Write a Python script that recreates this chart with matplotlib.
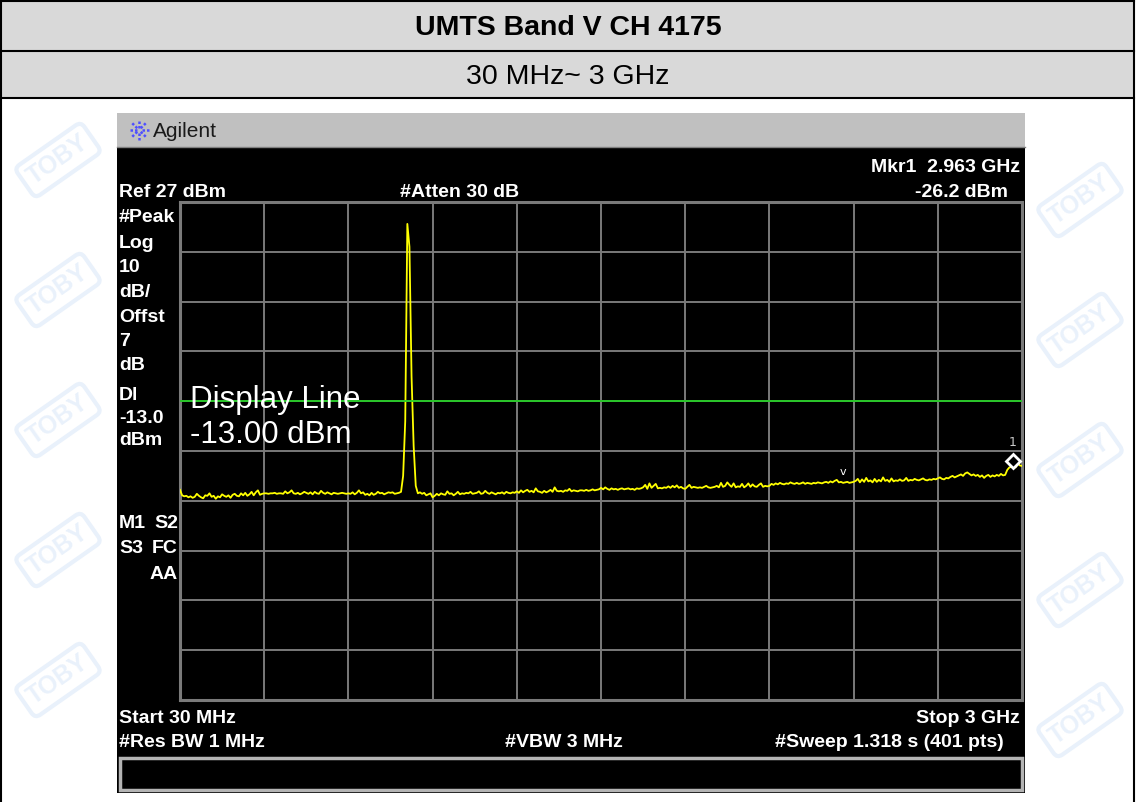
import numpy as np
import matplotlib
matplotlib.use('Agg')
import matplotlib.pyplot as plt
from matplotlib.patches import Rectangle
import matplotlib.transforms as mtransforms

plt.rcParams['font.family'] = ['Liberation Sans', 'DejaVu Sans']

# ---- data ----
title = 'UMTS Band V CH 4175'
subtitle = '30 MHz~ 3 GHz'

start_mhz = 30
stop_mhz = 3000
n_points = 401
ref_level = 27
db_per_div = 10
display_line = -13.0

trace_dbm = [
    -30.8, -31.9, -32.1, -32.0, -32.3, -32.1, -32.4, -32.2, -31.6, -32.0, -32.3, -32.5, -31.9, -32.0, -31.5, -32.2, -32.0, -32.6, -32.1, -32.3,
    -31.7, -32.0, -32.2, -31.9, -32.4, -31.8, -31.6, -32.0, -32.1, -31.5, -31.9, -31.4, -32.0, -31.7, -31.2, -31.9, -31.3, -30.9, -31.8, -31.6,
    -31.5, -31.5, -31.6, -31.5, -31.5, -31.4, -31.6, -31.5, -31.5, -31.6, -31.1, -31.5, -31.3, -30.9, -31.5, -31.6, -31.4, -31.7, -31.5, -31.2,
    -31.4, -31.6, -31.3, -31.7, -31.2, -31.5, -31.6, -31.0, -31.4, -31.6, -31.3, -31.5, -31.7, -31.4, -31.5, -31.6, -31.5, -31.4, -31.5, -31.6,
    -31.5, -31.6, -31.3, -31.7, -31.4, -30.9, -31.5, -31.3, -31.8, -31.6, -31.9, -31.4, -31.8, -31.6, -31.2, -31.5, -31.4, -31.7, -31.5, -31.3,
    -31.4, -31.3, -31.6, -31.5, -31.4, -31.2, -28.0, -17.0, 22.6, 18.0, -8.0, -22.0, -30.0, -31.5, -31.3, -31.6, -31.4, -31.9, -31.7, -31.5,
    -32.3, -32.0, -31.6, -31.9, -31.5, -31.7, -31.8, -31.1, -31.6, -31.5, -31.9, -31.6, -31.2, -31.7, -31.5, -31.6, -31.4, -31.5, -31.2, -31.6,
    -31.5, -31.4, -31.1, -31.6, -31.5, -31.0, -31.4, -31.6, -31.3, -31.5, -31.7, -31.4, -31.5, -31.3, -31.6, -31.2, -31.4, -31.5, -31.3, -31.4,
    -31.1, -31.4, -30.9, -31.3, -31.0, -30.8, -31.2, -31.0, -31.3, -30.5, -31.1, -31.2, -31.4, -31.0, -31.3, -31.1, -30.8, -31.2, -30.3, -31.0,
    -31.1, -31.0, -31.2, -30.9, -31.0, -30.6, -31.1, -30.9, -31.0, -31.1, -30.9, -30.9, -31.0, -30.8, -31.0, -30.9, -30.7, -30.9, -30.8, -30.7,
    -30.4, -30.7, -30.3, -30.6, -30.8, -30.5, -30.7, -30.6, -30.8, -30.6, -30.5, -30.7, -30.6, -30.5, -30.7, -30.6, -30.8, -30.5, -30.6, -30.5,
    -30.3, -29.8, -30.6, -29.5, -30.4, -30.0, -29.6, -30.5, -30.4, -30.5, -30.3, -30.4, -30.1, -30.4, -30.0, -30.3, -29.9, -30.4, -30.2, -30.5,
    -30.6, -30.2, -29.8, -30.4, -30.2, -30.3, -30.4, -30.3, -30.4, -30.2, -30.0, -30.3, -30.4, -30.3, -30.2, -30.0, -30.3, -29.4, -30.2, -30.0,
    -29.3, -29.8, -30.2, -29.5, -30.3, -30.1, -30.2, -29.6, -30.3, -30.0, -29.5, -30.2, -29.7, -30.1, -30.2, -29.8, -29.5, -30.2, -30.0, -30.1,
    -30.0, -29.6, -29.8, -29.5, -29.7, -29.4, -29.6, -29.7, -29.5, -29.6, -29.3, -29.5, -29.6, -29.4, -29.6, -29.5, -29.3, -29.6, -29.4, -29.5,
    -29.6, -29.4, -29.5, -29.3, -29.4, -29.5, -29.3, -29.2, -29.4, -29.1, -29.3, -29.0, -28.8, -29.3, -29.2, -29.4, -29.3, -29.2, -29.4, -29.3,
    -29.2, -29.0, -28.6, -29.3, -28.7, -29.2, -28.4, -29.1, -28.9, -29.3, -28.6, -29.2, -28.8, -29.1, -28.3, -29.0, -28.8, -29.2, -28.5, -29.1,
    -28.9, -29.0, -28.7, -29.0, -28.9, -28.4, -29.0, -28.8, -28.9, -28.6, -28.8, -28.9, -28.7, -28.5, -28.8, -28.9, -28.7, -28.8, -28.6, -28.7,
    -28.5, -28.3, -28.6, -28.7, -28.4, -28.5, -28.2, -28.0, -28.3, -28.1, -27.9, -27.7, -28.0, -27.5, -27.3, -27.6, -27.9, -27.7, -28.0, -27.8,
    -28.2, -27.9, -28.4, -28.0, -27.8, -28.2, -27.9, -28.1, -27.8, -28.0, -27.6, -27.9, -27.8, -26.8, -26.3, -26.2, -26.1, -26.3, -25.5, -25.9,
    -26.0,
]

marker_freq = 2963
marker_level = -26.2
caret_index = 315

left_labels = [('#Peak', 222), ('Log', 248), ('10', 272), ('dB/', 297), ('Offst', 322),
               ('7', 346), ('dB', 370), ('Dl', 400), ('-13.0', 423), ('dBm', 445)]

freqs = np.linspace(start_mhz, stop_mhz, n_points)

W, H = 1136, 802
fig = plt.figure(figsize=(W / 100, H / 100), dpi=100)
fig.patch.set_facecolor('white')

# pixel-coordinate background layer
bg = fig.add_axes([0, 0, 1, 1])
bg.set_xlim(0, W)
bg.set_ylim(H, 0)
bg.axis('off')

# faint watermarks in the side margins
for x0, ys in [(58, [160, 290, 420, 550, 680]), (1080, [200, 330, 460, 590, 720])]:
    for y0 in ys:
        bg.text(x0, y0, 'TOBY', rotation=35, fontsize=18, fontweight='bold',
                color='#e9f1fb', ha='center', va='center', zorder=0,
                bbox=dict(boxstyle='round,pad=0.25', fc='none', ec='#e9f1fb', lw=3))

# table header
bg.add_patch(Rectangle((1, 1), 1133, 49.5, fc='#d9d9d9', ec='none', zorder=1))
bg.add_patch(Rectangle((1, 50.5), 1133, 47, fc='#d9d9d9', ec='none', zorder=1))
for yy in [1, 50.5, 97.5]:
    bg.plot([1, 1134], [yy, yy], color='black', lw=1.5, zorder=2)
for xx in [1, 1134]:
    bg.plot([xx, xx], [1, H], color='black', lw=1.5, zorder=2)
bg.text(W / 2, 35, title, ha='center', va='baseline', fontsize=20.5,
        fontweight='bold', color='black', zorder=3)
bg.text(W / 2, 84, subtitle, ha='center', va='baseline', fontsize=20.5,
        color='black', zorder=3)

# analyzer screen frame
bg.add_patch(Rectangle((117, 113), 908, 34, fc='#c0c0c0', ec='none', zorder=2))
bg.add_patch(Rectangle((117, 147), 908, 646, fc='black', ec='none', zorder=2))
bg.plot([117, 1025], [146.5, 146.5], color='#808080', lw=1, zorder=3)
bg.add_patch(Rectangle((120, 758), 902, 32, fc='black', ec='#b4b4b4', lw=2.5, zorder=3))

# agilent logo
for ang in np.arange(0, 360, 45):
    a = np.deg2rad(ang)
    bg.plot([139 + 2.5 * np.cos(a), 139 + 10 * np.cos(a)],
            [130 + 2.5 * np.sin(a), 130 + 10 * np.sin(a)],
            color='#4f4fff', lw=1.8, ls=(0, (1, 0.8)), zorder=4)
bg.text(153, 137, 'Agilent', fontsize=15, color='#1a1a1a', va='baseline', zorder=4)

tk = dict(color='white', fontsize=14, fontweight='bold', va='baseline', zorder=4)
bg.text(119, 197, 'Ref 27 dBm', **tk)
bg.text(400, 197, '#Atten 30 dB', **tk)
bg.text(1020, 172, 'Mkr1  2.963 GHz', ha='right', **tk)
bg.text(1008, 197, '-26.2 dBm', ha='right', **tk)
for lab, yb in left_labels:
    bg.text(119, yb, lab, **tk)
bg.text(119, 528, 'M1', **tk)
bg.text(178, 528, 'S2', ha='right', **tk)
bg.text(119, 553, 'S3', **tk)
bg.text(178, 553, 'FC', ha='right', **tk)
bg.text(178, 579, 'AA', ha='right', **tk)
bg.text(119, 723, 'Start 30 MHz', **tk)
bg.text(1020, 723, 'Stop 3 GHz', ha='right', **tk)
bg.text(119, 747, '#Res BW 1 MHz', **tk)
bg.text(505, 747, '#VBW 3 MHz', **tk)
bg.text(1004, 747, '#Sweep 1.318 s (401 pts)', ha='right', **tk)

# graticule axes
gx0, gy0, gx1, gy1 = 180, 202, 1022, 700
ax = fig.add_axes([gx0 / W, 1 - gy1 / H, (gx1 - gx0) / W, (gy1 - gy0) / H])
ax.set_facecolor('black')
ax.set_xlim(start_mhz, stop_mhz)
ax.set_ylim(ref_level - 10 * db_per_div, ref_level)
ax.set_xticks(np.linspace(start_mhz, stop_mhz, 11))
ax.set_yticks(np.linspace(ref_level - 10 * db_per_div, ref_level, 11))
ax.grid(True, color='#7a7a7a', lw=1.4)
ax.tick_params(length=0, labelbottom=False, labelleft=False)
for s in ax.spines.values():
    s.set_color('#7a7a7a')
    s.set_linewidth(2.2)

ax.plot(freqs, trace_dbm, color='#ffff00', lw=1.3, zorder=3)
ax.axhline(display_line, color='#22cc22', lw=1.3, zorder=4)

ax.text(190, 408, 'Display Line', transform=bg.transData, color='white',
        fontsize=22.5, va='baseline', zorder=5)
ax.text(190, 443, '%.2f dBm' % display_line, transform=bg.transData, color='white',
        fontsize=22.5, va='baseline', zorder=5)

up = mtransforms.offset_copy(ax.transData, fig=fig, x=1, y=6, units='dots')
ax.plot([marker_freq], [marker_level], marker='D', ms=7.5, mec='white', mfc='black',
        mew=2, transform=up, clip_on=False, zorder=6)
lab_t = mtransforms.offset_copy(ax.transData, fig=fig, x=1, y=18, units='dots')
ax.text(marker_freq, marker_level, '1', transform=lab_t, color='#c8c8c8',
        fontsize=9, family='DejaVu Sans', ha='center', va='bottom', clip_on=False, zorder=6)
car_t = mtransforms.offset_copy(ax.transData, fig=fig, x=0, y=6, units='dots')
ax.text(freqs[caret_index], trace_dbm[caret_index], 'v', transform=car_t, color='white',
        fontsize=8, family='DejaVu Sans', ha='center', va='bottom', zorder=6)

fig.savefig('out.png', dpi=100, facecolor='white')
